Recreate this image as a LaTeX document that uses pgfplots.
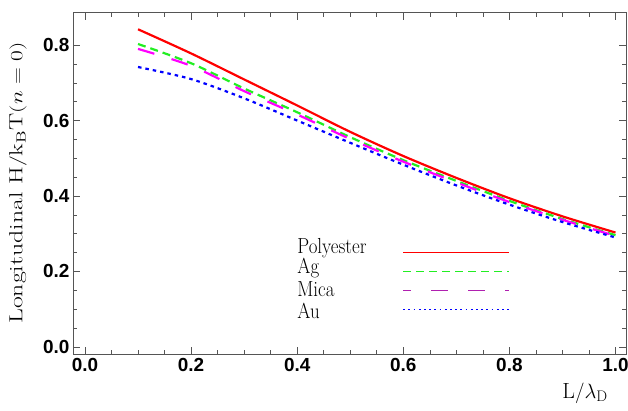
\documentclass[border=0pt]{standalone}
\usepackage{fontspec}
\usepackage{graphicx}
\usepackage{pgfplots}
\pgfplotsset{compat=1.18}
\newfontfamily\tickfont{Liberation Sans}

\definecolor{framegray}{HTML}{555555}
\definecolor{micapink}{HTML}{FF00FF}
\definecolor{micapurple}{HTML}{B020B0}
\definecolor{aggreen}{HTML}{22EE22}

\begin{document}
\begin{tikzpicture}
  \useasboundingbox (-73bp,-57bp) rectangle (555bp,354bp);
  \begin{axis}[
    at={(0,0)}, anchor=south west,
    scale only axis,
    width=553bp, height=341.3bp,
    xmin=-0.0226, xmax=1.0198,
    ymin=-0.019, ymax=0.886,
    xtick={0,0.2,...,1.0},
    ytick={0,0.2,...,0.8},
    minor x tick num=3,
    minor y tick num=3,
    tick align=inside,
    ticks=both,
    major tick length=7bp,
    minor tick length=4bp,
    tick style={framegray, line width=0.6pt},
    axis line style={framegray, line width=0.8pt},
    xticklabel style={font=\fontsize{19}{21}\tickfont\bfseries, yshift=-1bp},
    yticklabel style={font=\fontsize{19}{21}\tickfont\bfseries, xshift=0bp},
    /pgf/number format/assume math mode=true,
    /pgf/number format/.cd, fixed, fixed zerofill, precision=1,
    /pgfplots/.cd,
    xlabel={$\mathrm{L}/\lambda_{\mathrm{D}}$},
    xlabel style={font=\fontsize{22}{24}\selectfont, at={(axis description cs:0.926,-0.114)}, anchor=center},
    ylabel={\scalebox{1.36}[1]{Longitudinal $\mathrm{H}/\mathrm{k_B T}(n=0)$}},
    ylabel style={font=\fontsize{19}{21}\selectfont, at={(axis description cs:-0.0995,0.501)}, anchor=center},
  ]
    % curves
    \addplot[red, line width=2.2pt, smooth] coordinates {
      (0.1,0.842) (0.2,0.778) (0.3,0.709) (0.4,0.640) (0.5,0.570)
      (0.6,0.506) (0.7,0.448) (0.8,0.394) (0.9,0.346) (1.0,0.303)};
    \addplot[aggreen, line width=2.2pt, smooth, dash pattern=on 8bp off 5bp] coordinates {
      (0.1,0.803) (0.2,0.752) (0.3,0.685) (0.4,0.622) (0.5,0.556)
      (0.6,0.495) (0.7,0.440) (0.8,0.387) (0.9,0.339) (1.0,0.296)};
    \addplot[micapink, line width=2.2pt, smooth, dash pattern=on 17bp off 18bp] coordinates {
      (0.1,0.790) (0.2,0.745) (0.3,0.678) (0.4,0.616) (0.5,0.551)
      (0.6,0.491) (0.7,0.436) (0.8,0.384) (0.9,0.337) (1.0,0.294)};
    \addplot[blue, line width=2.2pt, smooth, dash pattern=on 3.5bp off 4bp] coordinates {
      (0.1,0.742) (0.2,0.710) (0.3,0.659) (0.4,0.600) (0.5,0.541)
      (0.6,0.483) (0.7,0.428) (0.8,0.377) (0.9,0.331) (1.0,0.290)};

    % legend sample lines
    \addplot[red, line width=1.2pt, forget plot] coordinates {(0.6,0.25) (0.8,0.25)};
    \addplot[aggreen, line width=1.2pt, forget plot, dash pattern=on 8bp off 5bp] coordinates {(0.6,0.20) (0.8,0.20)};
    \addplot[micapurple, line width=1.2pt, forget plot, dash pattern=on 17bp off 20bp, dash phase=9bp] coordinates {(0.6,0.15) (0.8,0.15)};
    \addplot[blue, line width=1.2pt, forget plot, dash pattern=on 1.8bp off 3.4bp] coordinates {(0.6,0.10) (0.8,0.10)};

    % legend labels
    \begin{scope}[every node/.style={anchor=base west, inner sep=0pt, font=\fontsize{19}{21}\selectfont}]
      \node at (axis cs:0.4,0.2485) {\scalebox{1}[1.15]{Polyester}};
      \node at (axis cs:0.4,0.1955) {\scalebox{1}[1.15]{Ag}};
      \node at (axis cs:0.4,0.1345) {\scalebox{1}[1.15]{Mica}};
      \node at (axis cs:0.4,0.0761) {\scalebox{1}[1.15]{Au}};
    \end{scope}
  \end{axis}
\end{tikzpicture}
\end{document}
